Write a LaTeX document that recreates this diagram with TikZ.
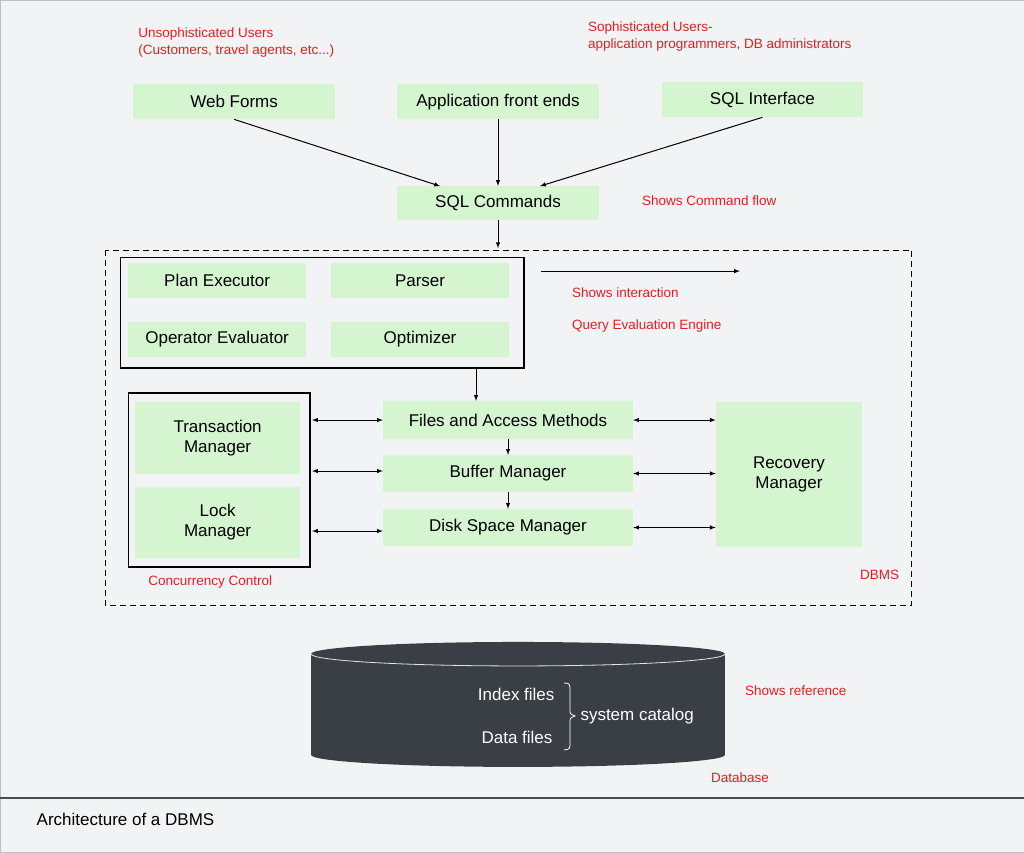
\documentclass[tikz,border=0pt]{standalone}
\usepackage{fontspec}
\setmainfont{Liberation Sans}
\definecolor{bg}{HTML}{F2F3F5}
\definecolor{gbox}{HTML}{D4F5D0}
\definecolor{redt}{HTML}{E02020}
\definecolor{db}{HTML}{3A3F45}
\begin{document}
\begin{tikzpicture}[x=1pt,y=-1pt,
 box/.style={fill=gbox,draw=none,inner sep=0pt,font=\fontsize{17}{20}\selectfont,align=center},
 lbl/.style={text=redt,font=\fontsize{13.5}{17}\selectfont,anchor=west,inner sep=0pt,align=left},
 arr/.style={-latex,line width=1pt},
 darr/.style={latex-latex,line width=1pt}]
\fill[bg,draw=black!25] (0,0) rectangle (1024,852);
\useasboundingbox (0,0) rectangle (1024,852);
\draw[line width=1.2pt,black!70] (0,798) -- (1024,798);
\node[anchor=west,font=\fontsize{17}{20}\selectfont] (title) at (33,820) {Architecture of a DBMS};
% top boxes
\node[box,minimum width=202pt,minimum height=35pt] (web) at (234,101.5) {Web Forms};
\node[box,minimum width=202pt,minimum height=35pt] (app) at (498,101.5) {Application front ends};
\node[box,minimum width=201pt,minimum height=35pt] (sqli) at (762.5,99.5) {SQL Interface};
\node[box,minimum width=202pt,minimum height=34pt] (sqlc) at (498,203) {SQL Commands};
\node[lbl] (l1) at (138,42) {Unsophisticated Users\\(Customers, travel agents, etc...)};
\node[lbl] (l2) at (588,36.5) {Sophisticated Users-\\application programmers, DB administrators};
\node[lbl] (l3) at (642,201) {Shows Command flow};
\draw[arr] (web.south) -- (440,186);
\draw[arr] (app.south) -- (sqlc.north);
\draw[arr] (sqli.south) -- (540,186);
% DBMS
\draw[line width=0.9pt,dash pattern=on 6pt off 4pt] (105,250) rectangle (912,605);
\coordinate (dtop) at (498,248);
\draw[arr] (sqlc.south) -- (dtop);
\draw[line width=1.2pt] (120,257) rectangle (524,368);
\coordinate (qeeb) at (476,369);
\node[box,minimum width=178pt,minimum height=35pt] (pe) at (217,280.5) {Plan Executor};
\node[box,minimum width=178pt,minimum height=35pt] (pa) at (420,280.5) {Parser};
\node[box,minimum width=178pt,minimum height=35pt] (oe) at (217,339.5) {Operator Evaluator};
\node[box,minimum width=178pt,minimum height=35pt] (op) at (420,339.5) {Optimizer};
\coordinate (ia) at (541,271); \coordinate (ib) at (740,271);
\draw[arr] (ia) -- (ib);
\node[lbl] (l4) at (572,293) {Shows interaction};
\node[lbl] (l5) at (572,326) {Query Evaluation Engine};
\draw[line width=1.2pt] (128,393) rectangle (310,567);
\node[box,minimum width=165pt,minimum height=72pt] (tm) at (217.5,438) {Transaction\\Manager};
\node[box,minimum width=165pt,minimum height=71pt] (lm) at (217.5,522.5) {Lock\\Manager};
\node[box,minimum width=250pt,minimum height=38pt] (fa) at (508,420) {Files and Access Methods};
\node[box,minimum width=250pt,minimum height=37pt] (bm) at (508,473.5) {Buffer Manager};
\node[box,minimum width=250pt,minimum height=37pt] (ds) at (508,527.5) {Disk Space Manager};
\node[box,minimum width=146pt,minimum height=145pt] (rm) at (789,474.5) {Recovery\\Manager};
\draw[arr] (qeeb) -- (fa.north -| qeeb);
\draw[arr] (fa.south) -- (bm.north);
\draw[arr] (bm.south) -- (ds.north);
\draw[darr] (312,420) -- (fa.west);
\draw[darr] (312,471) -- (bm.west |- 0,471);
\draw[darr] (312,531) -- (ds.west |- 0,531);
\draw[darr] (fa.east) -- (rm.west |- fa.east);
\draw[darr] (bm.east) -- (rm.west |- bm.east);
\draw[darr] (ds.east) -- (rm.west |- ds.east);
\node[lbl] (l6) at (148,582) {Concurrency Control};
\node[lbl] (l7) at (860,575) {DBMS};
% database
\fill[db] (311,654) -- (311,755) arc[x radius=207, y radius=12, start angle=180, end angle=0] -- (725,654) -- cycle;
\fill[db] (518,654) ellipse[x radius=207, y radius=12];
\draw[white!85!db,line width=0.8pt] (311,654) arc[x radius=207, y radius=12, start angle=180, end angle=0];
\node[text=white,anchor=east,font=\fontsize{17}{20}\selectfont] (ix) at (558,694) {Index files};
\node[text=white,anchor=east,font=\fontsize{17}{20}\selectfont] (df) at (556,737) {Data files};
\draw[white,line width=0.8pt] (564,683) .. controls (570,683) and (570,685) .. (570,690) -- (570,709) .. controls (570,714) .. (575,716) .. controls (570,718) .. (570,723) -- (570,743) .. controls (570,748) and (570,750) .. (564,750);
\node[text=white,anchor=west,font=\fontsize{17}{20}\selectfont] (sc) at (577,716) {system catalog};
\node[lbl] (l8) at (745,691) {Shows reference};
\node[lbl] (l9) at (711,778) {Database};
\end{tikzpicture}
\end{document}
